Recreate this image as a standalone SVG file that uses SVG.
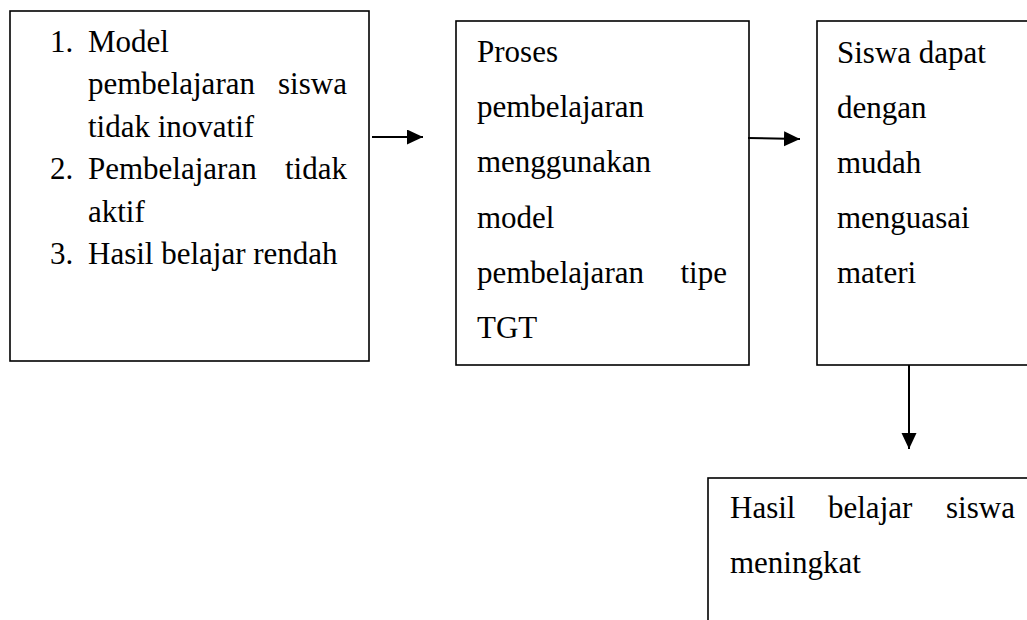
<svg xmlns="http://www.w3.org/2000/svg" width="1027" height="620" viewBox="0 0 1027 620">
  <style>
    .box { fill: #ffffff; stroke: #000000; stroke-width: 1.6; }
    .t { font-family: "Liberation Serif", "Times New Roman", serif; font-size: 31px; fill: #000000; }
    .conn { stroke: #000000; stroke-width: 2; fill: none; }
  </style>
  <defs>
    <marker id="arrow" markerUnits="userSpaceOnUse" markerWidth="17" markerHeight="16" refX="16" refY="7.5" orient="auto">
      <path d="M0,0 L16,7.5 L0,15 z" fill="#000000"/>
    </marker>
  </defs>
  <rect width="1027" height="620" fill="#ffffff"/>

  <g id="node-masalah">
    <rect class="box" x="10" y="11" width="359" height="350"/>
    <text class="t">
      <tspan x="50" y="52">1.</tspan><tspan x="88" y="52">Model</tspan>
      <tspan x="88" y="94.4">pembelajaran</tspan><tspan x="278" y="94.4">siswa</tspan>
      <tspan x="88" y="136.8">tidak inovatif</tspan>
      <tspan x="50" y="179.2">2.</tspan><tspan x="88" y="179.2">Pembelajaran</tspan><tspan x="285" y="179.2">tidak</tspan>
      <tspan x="88" y="221.6">aktif</tspan>
      <tspan x="50" y="264">3.</tspan><tspan x="88" y="264">Hasil belajar rendah</tspan>
    </text>
  </g>

  <g id="node-proses">
    <rect class="box" x="456" y="21" width="293" height="344"/>
    <text class="t">
      <tspan x="477" y="62">Proses</tspan>
      <tspan x="477" y="117.2">pembelajaran</tspan>
      <tspan x="477" y="172.4">menggunakan</tspan>
      <tspan x="477" y="227.6">model</tspan>
      <tspan x="477" y="282.8">pembelajaran</tspan><tspan x="680.5" y="282.8">tipe</tspan>
      <tspan x="477" y="338">TGT</tspan>
    </text>
  </g>

  <g id="node-siswa">
    <rect class="box" x="817" y="21" width="230" height="344"/>
    <text class="t">
      <tspan x="837" y="63">Siswa dapat</tspan>
      <tspan x="837" y="118">dengan</tspan>
      <tspan x="837" y="173">mudah</tspan>
      <tspan x="837" y="228">menguasai</tspan>
      <tspan x="837" y="283">materi</tspan>
    </text>
  </g>

  <g id="node-hasil">
    <rect class="box" x="708" y="478" width="340" height="160"/>
    <text class="t">
      <tspan x="730" y="518">Hasil</tspan><tspan x="828" y="518">belajar</tspan><tspan x="946" y="518">siswa</tspan>
      <tspan x="730" y="573">meningkat</tspan>
    </text>
  </g>

  <g id="connectors">
    <line class="conn" x1="372" y1="137" x2="423" y2="137" marker-end="url(#arrow)"/>
    <line class="conn" x1="748" y1="138" x2="800" y2="139" marker-end="url(#arrow)"/>
    <line class="conn" x1="909" y1="365" x2="909" y2="449" marker-end="url(#arrow)"/>
  </g>
</svg>
